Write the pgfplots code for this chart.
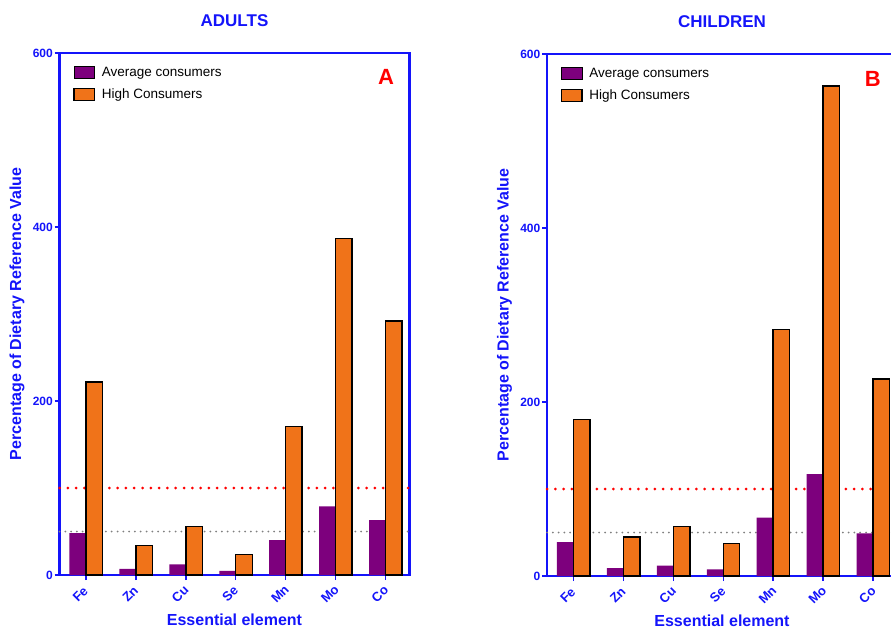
\documentclass[border=0pt]{standalone}
\usepackage{pgfplots}
\pgfplotsset{compat=1.18}
\usepackage{fontspec}
\setmainfont{Liberation Sans}
\definecolor{axblue}{RGB}{20,20,250}
\definecolor{avgpurple}{RGB}{125,0,125}
\definecolor{highorange}{RGB}{240,115,25}
\pgfplotsset{
  panel/.style={
    scale only axis, width=350pt, height=522pt,
    xmin=-0.53, xmax=6.48, ymin=0, ymax=600,
    axis line style={axblue, line width=2.4pt},
    xtick={0,...,6}, xticklabels={Fe,Zn,Cu,Se,Mn,Mo,Co},
    ytick={0,200,400,600},
    tick style={axblue, line width=1.5pt},
    tick align=outside, tick pos=left,
    major tick length=5pt,
    /pgf/number format/assume math mode=true,
    xticklabel style={rotate=45, anchor=center, xshift=-14pt, yshift=-6pt, font=\bfseries\fontsize{13}{15}\selectfont, text=axblue},
    yticklabel style={font=\bfseries\fontsize{12}{14}\selectfont, text=axblue, inner sep=1.5pt},
    xlabel={Essential element}, ylabel={Percentage of Dietary Reference Value},
    xlabel style={at={(0.5,0)}, anchor=base, yshift=-50.5pt, font=\bfseries\fontsize{16}{19}\selectfont, text=axblue},
    ylabel style={at={(0,0.5)}, anchor=center, yshift=42.5pt, font=\bfseries\fontsize{16}{19}\selectfont, text=axblue},
    title style={at={(0.5,1)}, anchor=base, yshift=20.5pt, font=\bfseries\fontsize{17}{20}\selectfont, text=axblue},
    legend style={at={(0.03,0.981)}, anchor=north west, draw=none, fill=none, font=\fontsize{13.5}{16}\selectfont, row sep=7pt},
    legend cell align=left,
    legend image code/.code={\draw[#1] (0pt,-6pt) rectangle (20.7pt,6pt); \path[draw=none, fill=none] (20.7pt,0pt) -- (26pt,0pt);},
    clip=false,
  },
  avg/.style={ybar, bar width=0.33, bar shift=-0.165, fill=avgpurple, draw=none},
  high/.style={ybar, bar width=0.33, bar shift=0.165, fill=highorange, draw=black, line width=1.4pt},
  redref/.style={red, line width=3pt, dash pattern=on 0pt off 8.3pt, line cap=round, forget plot, sharp plot},
  grayref/.style={gray, line width=2pt, dash pattern=on 0pt off 5.8pt, line cap=round, forget plot, sharp plot},
}
\begin{document}
\begin{tikzpicture}
\useasboundingbox (0,0) rectangle (891pt,629pt);
\clip (0,0) rectangle (891pt,629pt);
% ADULTS
\begin{axis}[panel, at={(59.5pt,54pt)}, anchor=south west, title={ADULTS}]
\addplot[redref] coordinates {(-0.53,100) (6.48,100)};
\addplot[grayref] coordinates {(-0.53,50) (6.48,50)};
\addplot[avg] coordinates {(0,48) (1,7) (2,12.3) (3,4.6) (4,40) (5,79) (6,63)};
\addlegendentry{Average consumers}
\addplot[high] coordinates {(0,222) (1,34) (2,56) (3,23.4) (4,171) (5,387) (6,292)};
\addlegendentry{High Consumers}
\node[text=red, font=\bfseries\fontsize{22}{26}\selectfont] at (rel axis cs:0.933,0.955) {A};
\end{axis}
% CHILDREN
\begin{axis}[panel, at={(547pt,53pt)}, anchor=south west, title={CHILDREN}]
\addplot[redref] coordinates {(-0.53,100) (6.48,100)};
\addplot[grayref] coordinates {(-0.53,50) (6.48,50)};
\addplot[avg] coordinates {(0,39) (1,9) (2,12) (3,7.7) (4,67) (5,117) (6,49)};
\addlegendentry{Average consumers}
\addplot[high] coordinates {(0,180) (1,45) (2,56.7) (3,37.6) (4,283) (5,563) (6,226.4)};
\addlegendentry{High Consumers}
\node[text=red, font=\bfseries\fontsize{22}{26}\selectfont] at (rel axis cs:0.931,0.953) {B};
\end{axis}
\end{tikzpicture}
\end{document}
